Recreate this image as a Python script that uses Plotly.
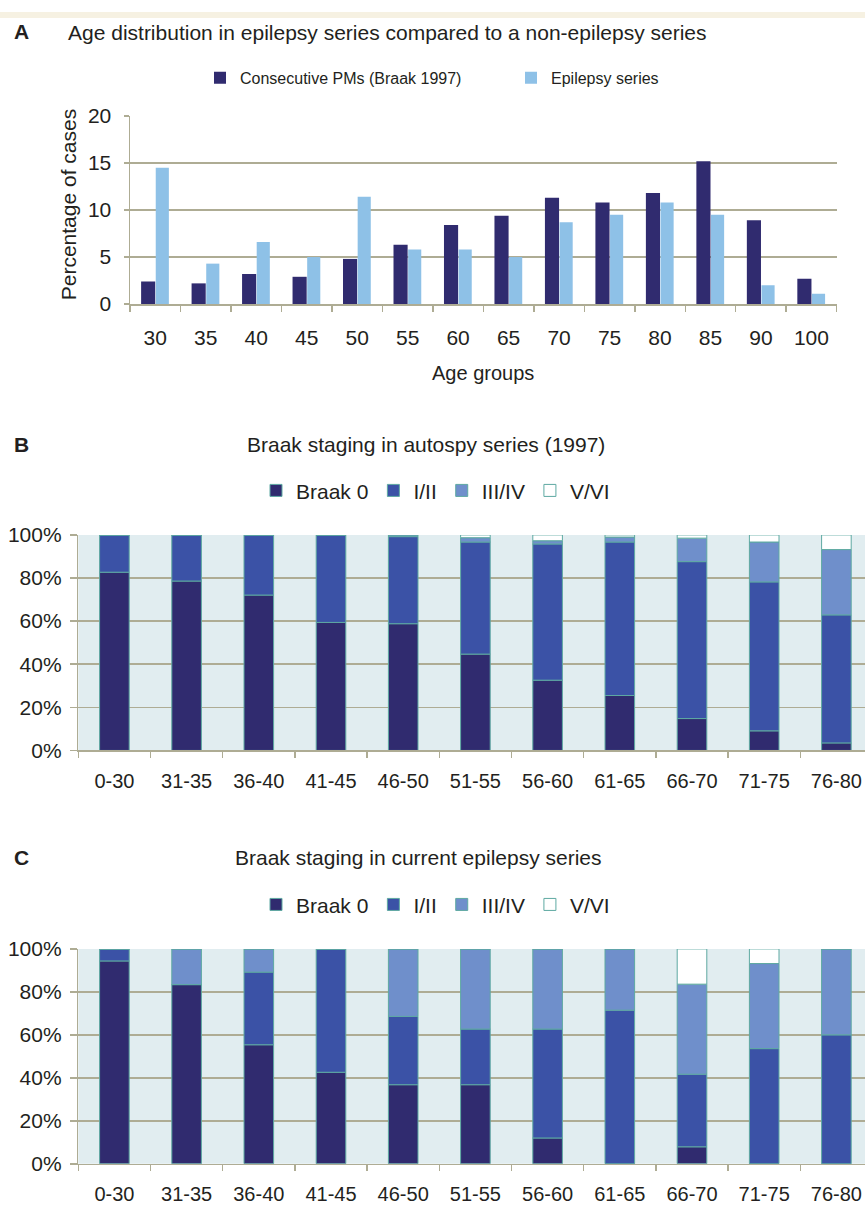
import numpy as np
import plotly.graph_objects as go

W, H = 865, 1215

# ---------------- data ----------------
age_groups = ['30', '35', '40', '45', '50', '55', '60', '65', '70', '75', '80', '85', '90', '100']
consecutive_pms = [2.4, 2.2, 3.2, 2.9, 4.8, 6.3, 8.4, 9.4, 11.3, 10.8, 11.8, 15.2, 8.9, 2.7]
epilepsy_series = [14.5, 4.3, 6.6, 5.0, 11.4, 5.8, 5.8, 5.0, 8.7, 9.5, 10.8, 9.5, 2.0, 1.1]

stage_groups = ['0-30', '31-35', '36-40', '41-45', '46-50', '51-55',
                '56-60', '61-65', '66-70', '71-75', '76-80']
stage_names = ['Braak 0', 'I/II', 'III/IV', 'V/VI']

autopsy_braak0 = [82.7, 78.6, 72.1, 59.4, 58.8, 44.7, 32.6, 25.5, 14.8, 9.1, 3.5]
autopsy_i_ii = [17.3, 21.4, 27.9, 40.6, 40.4, 52.0, 63.2, 71.2, 72.8, 69.1, 59.4]
autopsy_iii_iv = [0, 0, 0, 0, 0.8, 2.0, 1.5, 2.3, 10.9, 18.5, 30.3]
autopsy_v_vi = [0, 0, 0, 0, 0, 1.3, 2.7, 1.0, 1.5, 3.3, 6.8]

epi_braak0 = [94.4, 83.4, 55.4, 42.6, 36.8, 36.8, 12.0, 0, 7.9, 0, 0]
epi_i_ii = [5.6, 0, 33.8, 57.4, 31.8, 25.9, 50.7, 71.5, 33.8, 53.6, 60.0]
epi_iii_iv = [0, 16.6, 10.8, 0, 31.4, 37.3, 37.3, 28.5, 41.9, 39.6, 40.0]
epi_v_vi = [0, 0, 0, 0, 0, 0, 0, 0, 16.4, 6.8, 0]

pct_ticks = [0, 20, 40, 60, 80, 100]
pct_labels = ['0%', '20%', '40%', '60%', '80%', '100%']

# ---------------- styles ----------------
FONT = 'Liberation Sans, Arial, sans-serif'
TXT = '#231f20'
GRID = '#aeac94'
TEAL = '#5ea9a2'
DARK = '#302b6f'
LIGHT = '#8ec1e7'
stage_colors = ['#302b6f', '#3b52a6', '#6f8fcb', '#ffffff']


def px(x):
    return x / W


def py(y):
    return 1 - y / H


fig = go.Figure()

# Panel A
fig.add_trace(go.Bar(x=age_groups, y=consecutive_pms, name='Consecutive PMs (Braak 1997)',
                     marker=dict(color=DARK, line=dict(width=0)), offset=-0.28, width=0.28,
                     xaxis='x', yaxis='y', legend='legend'))
fig.add_trace(go.Bar(x=age_groups, y=epilepsy_series, name='Epilepsy series',
                     marker=dict(color=LIGHT, line=dict(width=0)), offset=0.01, width=0.26,
                     xaxis='x', yaxis='y', legend='legend2'))

# Panels B, C (stacked via explicit bases)
for series, xa, ya, lg in [
    ([autopsy_braak0, autopsy_i_ii, autopsy_iii_iv, autopsy_v_vi], 'x2', 'y2', 'legend3'),
    ([epi_braak0, epi_i_ii, epi_iii_iv, epi_v_vi], 'x3', 'y3', 'legend4'),
]:
    arr = np.array(series, dtype=float)
    bases = np.vstack([np.zeros(arr.shape[1]), np.cumsum(arr, axis=0)[:-1]])
    for i, name in enumerate(stage_names):
        fig.add_trace(go.Bar(x=stage_groups, y=arr[i], base=bases[i], name=name,
                             marker=dict(color=stage_colors[i], line=dict(color=TEAL, width=1)),
                             width=0.41, xaxis=xa, yaxis=ya, legend=lg))

axis_common = dict(showline=True, linecolor=GRID, linewidth=1.5, tickcolor=GRID, tickwidth=1.5,
                   ticks='outside', zeroline=False, fixedrange=True)
f21 = dict(family=FONT, size=21, color=TXT)
f20 = dict(family=FONT, size=20, color=TXT)

B_END = -0.5 + (W - 78.3) / 72.2

layout = dict(
    width=W, height=H, autosize=False,
    margin=dict(l=0, r=0, t=0, b=0),
    paper_bgcolor='white', plot_bgcolor='white',
    barmode='overlay', showlegend=True,
    font=dict(family=FONT, color=TXT),
    xaxis=dict(domain=[px(130), px(836.7)], anchor='y', type='category', range=[-0.5, 13.5],
               tickson='boundaries', ticklen=6, showgrid=False, ticklabelstandoff=14,
               tickfont=f21, **axis_common),
    yaxis=dict(domain=[py(297.7), py(106)], anchor='x', range=[0, 20], dtick=5,
               showgrid=True, gridcolor=GRID, gridwidth=1.5, ticklen=5, ticklabelstandoff=8,
               tickfont=f21, **axis_common),
    xaxis2=dict(domain=[px(78.3), 1], anchor='y2', type='category', range=[-0.5, B_END],
                tickson='boundaries', ticklen=6, showgrid=False, ticklabelstandoff=12,
                tickfont=f20, ticklabeloverflow='allow', **axis_common),
    yaxis2=dict(domain=[py(752.7), py(533)], anchor='x2', range=[0, 100], tickmode='array',
                tickvals=pct_ticks, ticktext=pct_labels, showgrid=True, gridcolor=GRID,
                gridwidth=1.5, ticklen=7, ticklabelstandoff=4, tickfont=f21, **axis_common),
    xaxis3=dict(domain=[px(78.3), 1], anchor='y3', type='category', range=[-0.5, B_END],
                tickson='boundaries', ticklen=6, showgrid=False, ticklabelstandoff=12,
                tickfont=f20, ticklabeloverflow='allow', **axis_common),
    yaxis3=dict(domain=[py(1174), py(955)], anchor='x3', range=[0, 100], tickmode='array',
                tickvals=pct_ticks, ticktext=pct_labels, showgrid=True, gridcolor=GRID,
                gridwidth=1.5, ticklen=7, ticklabelstandoff=4, tickfont=f21, **axis_common),
)

leg_common = dict(orientation='h', xanchor='left', yanchor='middle', bgcolor='rgba(0,0,0,0)',
                  traceorder='normal', itemclick=False, itemdoubleclick=False)
layout['legend'] = dict(x=px(200), y=py(67), font=dict(family=FONT, size=16, color=TXT), **leg_common)
layout['legend2'] = dict(x=px(511), y=py(67), font=dict(family=FONT, size=16, color=TXT), **leg_common)
layout['legend3'] = dict(x=px(256), y=py(488), font=f21, **leg_common)
layout['legend4'] = dict(x=px(256), y=py(910), font=f21, **leg_common)

fig.update_layout(**layout)

# Backgrounds
fig.add_shape(type='rect', xref='paper', yref='paper', x0=0, x1=1, y0=py(6), y1=1,
              fillcolor='#f6f1e2', line=dict(width=0), layer='below')
for n in ['2', '3']:
    fig.add_shape(type='rect', xref=f'x{n} domain', yref=f'y{n} domain', x0=0, x1=1, y0=0, y1=1,
                  fillcolor='#e1edf0', line=dict(width=0), layer='below')


# Text
def note(text, x, y, size, bold=False, anchor='left', angle=0):
    fig.add_annotation(text=f'<b>{text}</b>' if bold else text, xref='paper', yref='paper',
                       x=px(x), y=py(y), xanchor=anchor, yanchor='middle', showarrow=False,
                       textangle=angle, font=dict(family=FONT, size=size, color=TXT))


note('A', 12, 20, 21, bold=True)
note('Age distribution in epilepsy series compared to a non-epilepsy series', 66, 21, 21)
note('Percentage of cases', 68, 197, 21, anchor='center', angle=-90)
note('Age groups', 483, 368, 20, anchor='center')
note('B', 12, 441, 21, bold=True)
note('Braak staging in autospy series (1997)', 245, 441, 21)
note('C', 12, 862, 21, bold=True)
note('Braak staging in current epilepsy series', 233, 862, 21)

# remove the browser's default page margin so the figure sits at the window's origin
fig.write_html('out.html', config={'displayModeBar': False, 'staticPlot': True},
               post_script="document.body.style.margin='0';document.body.style.overflow='hidden';")
